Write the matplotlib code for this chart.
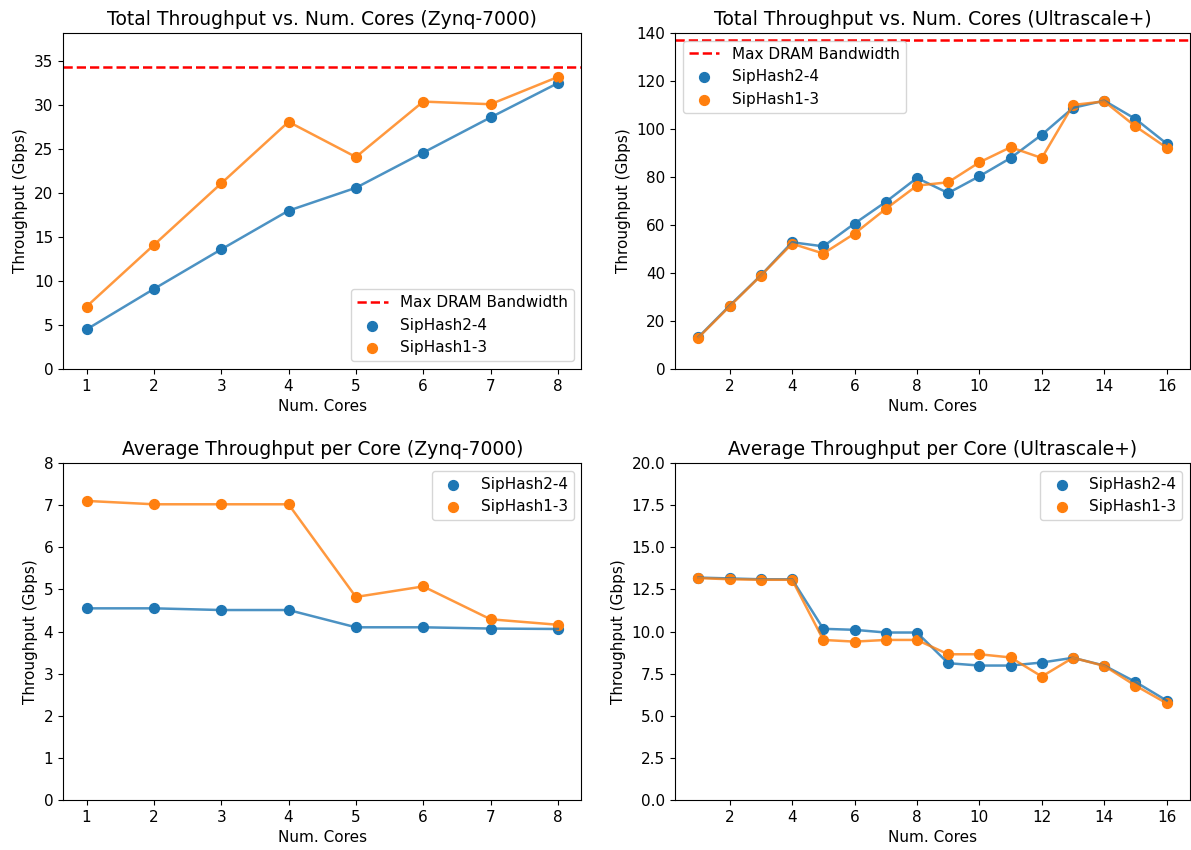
import numpy as np
import matplotlib.pyplot as plt

# Zynq-7000 (1..8 cores)
zynq_cores = [1, 2, 3, 4, 5, 6, 7, 8]
zynq_total_24 = [4.5, 9.1, 13.6, 18.0, 20.6, 24.6, 28.6, 32.5]
zynq_total_13 = [7.1, 14.1, 21.1, 28.1, 24.1, 30.4, 30.1, 33.2]
zynq_avg_24 = [4.55, 4.55, 4.51, 4.51, 4.10, 4.10, 4.07, 4.06]
zynq_avg_13 = [7.10, 7.02, 7.02, 7.02, 4.82, 5.07, 4.29, 4.16]
zynq_dram = 34.3

# Ultrascale+ (1..16 cores)
us_cores = list(range(1, 17))
us_total_24 = [13.3, 26.4, 39.0, 52.8, 51.1, 60.6, 69.6, 79.6,
               73.3, 80.3, 87.9, 97.6, 108.8, 111.8, 104.2, 93.9]
us_total_13 = [13.1, 26.1, 38.9, 52.2, 48.1, 56.4, 66.7, 76.4,
               77.8, 86.1, 92.4, 87.9, 110.0, 111.5, 101.1, 92.2]
us_avg_24 = [13.2, 13.15, 13.1, 13.1, 10.16, 10.1, 9.94, 9.94,
             8.12, 7.98, 7.98, 8.16, 8.44, 7.98, 7.01, 5.9]
us_avg_13 = [13.17, 13.1, 13.07, 13.07, 9.5, 9.4, 9.5, 9.5,
             8.65, 8.65, 8.46, 7.33, 8.44, 7.96, 6.79, 5.74]
us_dram = 137

blue = "#1f77b4"
orange = "#ff7f0e"

plt.rcParams["xtick.labelsize"] = 11
plt.rcParams["ytick.labelsize"] = 11
plt.rcParams["axes.labelsize"] = 11
plt.rcParams["legend.fontsize"] = 11

fig = plt.figure(figsize=(11.91, 8.5), dpi=100)
ax1 = fig.add_axes([0.0529, 0.5659, 0.4353, 0.3953])
ax2 = fig.add_axes([0.5668, 0.5659, 0.4324, 0.3953])
ax3 = fig.add_axes([0.0529, 0.0588, 0.4353, 0.3965])
ax4 = fig.add_axes([0.5668, 0.0588, 0.4324, 0.3965])


def draw(ax, x, y24, y13, title, dram=None, loc="best"):
    if dram is not None:
        ax.axhline(dram, color="red", linestyle="--", linewidth=1.8, label="Max DRAM Bandwidth")
    ax.plot(x, y24, color=blue, alpha=0.8, linewidth=1.8)
    ax.scatter(x, y24, color=blue, s=50, label="SipHash2-4")
    ax.plot(x, y13, color=orange, alpha=0.8, linewidth=1.8)
    ax.scatter(x, y13, color=orange, s=50, label="SipHash1-3")
    ax.set_title(title, fontsize=13.5)
    ax.set_xlabel("Num. Cores")
    ax.set_ylabel("Throughput (Gbps)")
    ax.legend(loc=loc)


draw(ax1, zynq_cores, zynq_total_24, zynq_total_13,
     "Total Throughput vs. Num. Cores (Zynq-7000)", dram=zynq_dram, loc="lower right")
ax1.set_ylim(0, 38.2)

draw(ax2, us_cores, us_total_24, us_total_13,
     "Total Throughput vs. Num. Cores (Ultrascale+)", dram=us_dram, loc="upper left")
ax2.set_ylim(0, 140)

draw(ax3, zynq_cores, zynq_avg_24, zynq_avg_13,
     "Average Throughput per Core (Zynq-7000)", loc="upper right")
ax3.set_ylim(0, 8)

draw(ax4, us_cores, us_avg_24, us_avg_13,
     "Average Throughput per Core (Ultrascale+)", loc="upper right")
ax4.set_ylim(0, 20)

fig.savefig("out.png", dpi=100)
